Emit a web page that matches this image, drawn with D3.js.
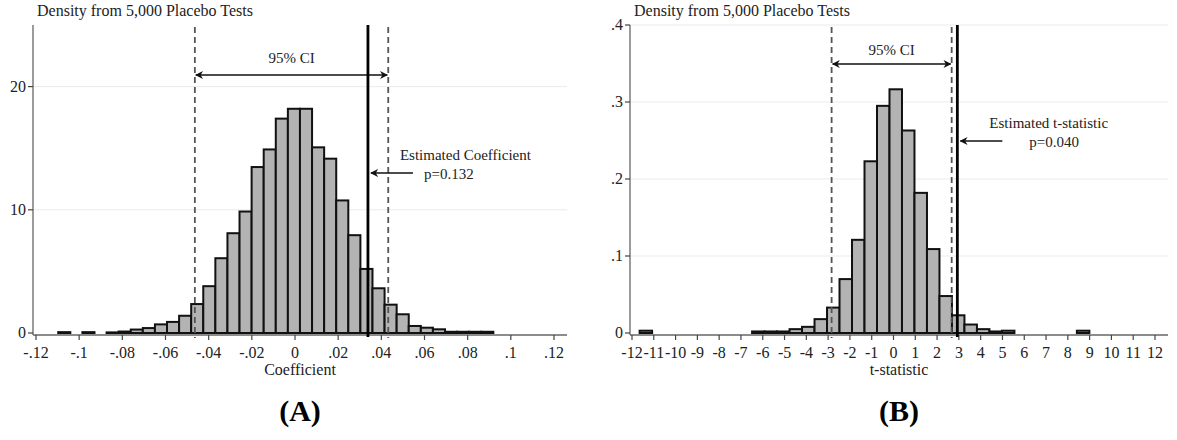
<!DOCTYPE html>
<html>
  <head>
    <meta charset="utf-8">
    <title></title>
    <style>
      body { margin: 0; background: #fff; }
      svg { display: block; font-family: "Liberation Serif", "Times New Roman", serif; }
      .bar { fill: #b3b3b3; stroke: #111; stroke-width: 2; }
      .grid { stroke: #ebebeb; stroke-width: 1; }
      .axisline { stroke: #666; stroke-width: 1.3; }
      .tick { stroke: #444; stroke-width: 1.2; }
      .ci { stroke: #555; stroke-width: 1.8; stroke-dasharray: 6,4; }
      .est { stroke: #000; stroke-width: 2.8; }
      .arrow { stroke: #111; stroke-width: 1.7; fill: none; }
      text { fill: #222; }
    </style>
    <script src="https://cdnjs.cloudflare.com/ajax/libs/d3/7.8.5/d3.min.js"></script>
  </head>
  <body>
    <script>
// panel A: placebo coefficients
var coefBinStart = -0.1097;
var coefBinWidth = 0.0056;
var coefDensity = [0.07, 0, 0.07, 0, 0.05, 0.12, 0.28, 0.4, 0.7, 0.9, 1.4, 2.35, 3.8, 6.07, 8.1, 9.86,
  13.47, 14.9, 17.4, 18.2, 18.2, 15.07, 14.15, 10.76, 7.94, 5.2, 3.63, 2.3, 1.52, 0.57, 0.43, 0.3,
  0.1, 0.1, 0.1, 0.1];
var coefCI = [-0.0464, 0.0432];
var coefEstimate = 0.0338;
var coefXTicks = [-0.12, -0.1, -0.08, -0.06, -0.04, -0.02, 0, 0.02, 0.04, 0.06, 0.08, 0.1, 0.12];
var coefXLabels = ["-.12", "-.1", "-.08", "-.06", "-.04", "-.02", "0", ".02", ".04", ".06", ".08", ".1", ".12"];
var coefYTicks = [0, 10, 20];
var coefYLabels = ["0", "10", "20"];

// panel B: placebo t-statistics
var tBinStart = -11.65;
var tBinWidth = 0.5733;
var tDensity = [0.003, 0, 0, 0, 0, 0, 0, 0, 0, 0.002, 0.002, 0.002, 0.005, 0.008, 0.018, 0.033,
  0.070, 0.121, 0.223, 0.295, 0.3165, 0.263, 0.182, 0.109, 0.048, 0.023, 0.011, 0.005, 0.002, 0.003,
  0, 0, 0, 0, 0, 0.003];
var tCI = [-2.84, 2.67];
var tEstimate = 2.93;
var tXTicks = [-12, -11, -10, -9, -8, -7, -6, -5, -4, -3, -2, -1, 0, 1, 2, 3, 4, 5, 6, 7, 8, 9, 10, 11, 12];
var tXLabels = tXTicks.map(String);
var tYTicks = [0, 0.1, 0.2, 0.3, 0.4];
var tYLabels = ["0", ".1", ".2", ".3", ".4"];

var svg = d3.select("body").append("svg").attr("width", 1177).attr("height", 440);

var defs = svg.append("defs");
defs.append("marker").attr("id", "head")
  .attr("viewBox", "0 0 10 10").attr("refX", 9).attr("refY", 5)
  .attr("markerWidth", 8).attr("markerHeight", 8).attr("markerUnits", "userSpaceOnUse")
  .attr("orient", "auto-start-reverse")
  .append("path").attr("d", "M0,0 L10,5 L0,10 L3,5 z").attr("fill", "#111");

function panel(p) {
  var g = svg.append("g");
  var x = d3.scaleLinear().domain(p.xDomain).range(p.xRange);
  var y = d3.scaleLinear().domain(p.yDomain).range([333, 25]);
  var axisY = 335;

  // gridlines
  g.selectAll(".grid").data(p.yTicks.filter(function(d){ return d > 0; })).enter()
    .append("line").attr("class", "grid")
    .attr("x1", p.plotLeft).attr("x2", p.plotRight)
    .attr("y1", function(d){ return y(d); }).attr("y2", function(d){ return y(d); });

  // bars
  var bins = p.density.map(function(v, i){
    return { x0: p.binStart + i * p.binWidth, x1: p.binStart + (i + 1) * p.binWidth, v: v };
  }).filter(function(b){ return b.v > 0; });
  g.selectAll(".bar").data(bins).enter().append("rect").attr("class", "bar")
    .attr("x", function(b){ return x(b.x0); })
    .attr("width", function(b){ return x(b.x1) - x(b.x0); })
    .attr("y", function(b){ return y(b.v); })
    .attr("height", function(b){ return y(0) - y(b.v); });

  // axes
  g.append("line").attr("class", "axisline").attr("x1", p.plotLeft).attr("x2", p.plotLeft).attr("y1", 25).attr("y2", axisY);
  g.append("line").attr("class", "axisline").attr("x1", p.plotLeft).attr("x2", p.plotRight).attr("y1", axisY).attr("y2", axisY);

  g.selectAll(".ytick").data(p.yTicks).enter().append("line").attr("class", "tick")
    .attr("x1", p.plotLeft - 5).attr("x2", p.plotLeft)
    .attr("y1", function(d){ return y(d); }).attr("y2", function(d){ return y(d); });
  g.selectAll(".ylab").data(p.yTicks).enter().append("text")
    .attr("x", p.plotLeft - 7).attr("y", function(d){ return y(d) + 5; })
    .attr("text-anchor", "end").style("font-size", "16px")
    .text(function(d, i){ return p.yLabels[i]; });

  g.selectAll(".xtick").data(p.xTicks).enter().append("line").attr("class", "tick")
    .attr("x1", function(d){ return x(d); }).attr("x2", function(d){ return x(d); })
    .attr("y1", axisY).attr("y2", axisY + 5);
  g.selectAll(".xlab").data(p.xTicks).enter().append("text")
    .attr("x", function(d){ return x(d); }).attr("y", 358)
    .attr("text-anchor", "middle").style("font-size", "16px")
    .text(function(d, i){ return p.xLabels[i]; });

  var mid = (p.plotLeft + p.plotRight) / 2;
  g.append("text").attr("x", mid).attr("y", 375).attr("text-anchor", "middle")
    .style("font-size", "16px").text(p.xTitle);
  g.append("text").attr("x", p.plotLeft + 4).attr("y", 16)
    .style("font-size", "16px").text("Density from 5,000 Placebo Tests");
  g.append("text").attr("x", mid).attr("y", 421).attr("text-anchor", "middle")
    .style("font-size", "30px").style("font-weight", "bold").style("fill", "#000").text(p.label);

  // CI lines and arrow
  g.selectAll(".ci").data(p.ci).enter().append("line").attr("class", "ci")
    .attr("x1", function(d){ return x(d); }).attr("x2", function(d){ return x(d); })
    .attr("y1", 27).attr("y2", 338);
  g.append("line").attr("class", "arrow")
    .attr("x1", x(p.ci[0]) + 1).attr("x2", x(p.ci[1]) - 1)
    .attr("y1", p.ciArrowY).attr("y2", p.ciArrowY)
    .attr("marker-start", "url(#head)").attr("marker-end", "url(#head)");
  g.append("text").attr("x", (x(p.ci[0]) + x(p.ci[1])) / 2).attr("y", p.ciArrowY - p.ciTextGap)
    .attr("text-anchor", "middle").style("font-size", "15px").text("95% CI");

  // estimate
  var ex = x(p.estimate);
  g.append("line").attr("class", "est").attr("x1", ex).attr("x2", ex).attr("y1", 25).attr("y2", 337);
  g.append("line").attr("class", "arrow")
    .attr("x1", ex + 45).attr("x2", ex + 3)
    .attr("y1", p.estArrowY).attr("y2", p.estArrowY)
    .attr("marker-end", "url(#head)");
  g.append("text").attr("x", ex + 32).attr("y", p.estArrowY - 13)
    .style("font-size", "15px").text(p.estText);
  g.append("text").attr("x", ex + p.pOffset).attr("y", p.estArrowY + 6)
    .style("font-size", "15px").text(p.pText);
}

panel({
  density: coefDensity, binStart: coefBinStart, binWidth: coefBinWidth,
  xDomain: [-0.12, 0.12], xRange: [36, 554], yDomain: [0, 25],
  plotLeft: 33, plotRight: 567,
  xTicks: coefXTicks, xLabels: coefXLabels, yTicks: coefYTicks, yLabels: coefYLabels,
  xTitle: "Coefficient", label: "(A)",
  ci: coefCI, ciArrowY: 75, ciTextGap: 12,
  estimate: coefEstimate, estArrowY: 173, estText: "Estimated Coefficient", pText: "p=0.132", pOffset: 56
});

panel({
  density: tDensity, binStart: tBinStart, binWidth: tBinWidth,
  xDomain: [-12, 12], xRange: [632, 1155], yDomain: [0, 0.4],
  plotLeft: 630, plotRight: 1168,
  xTicks: tXTicks, xLabels: tXLabels, yTicks: tYTicks, yLabels: tYLabels,
  xTitle: "t-statistic", label: "(B)",
  ci: tCI, ciArrowY: 64, ciTextGap: 9,
  estimate: tEstimate, estArrowY: 141, estText: "Estimated t-statistic", pText: "p=0.040", pOffset: 72
});
    </script>
  </body>
</html>
